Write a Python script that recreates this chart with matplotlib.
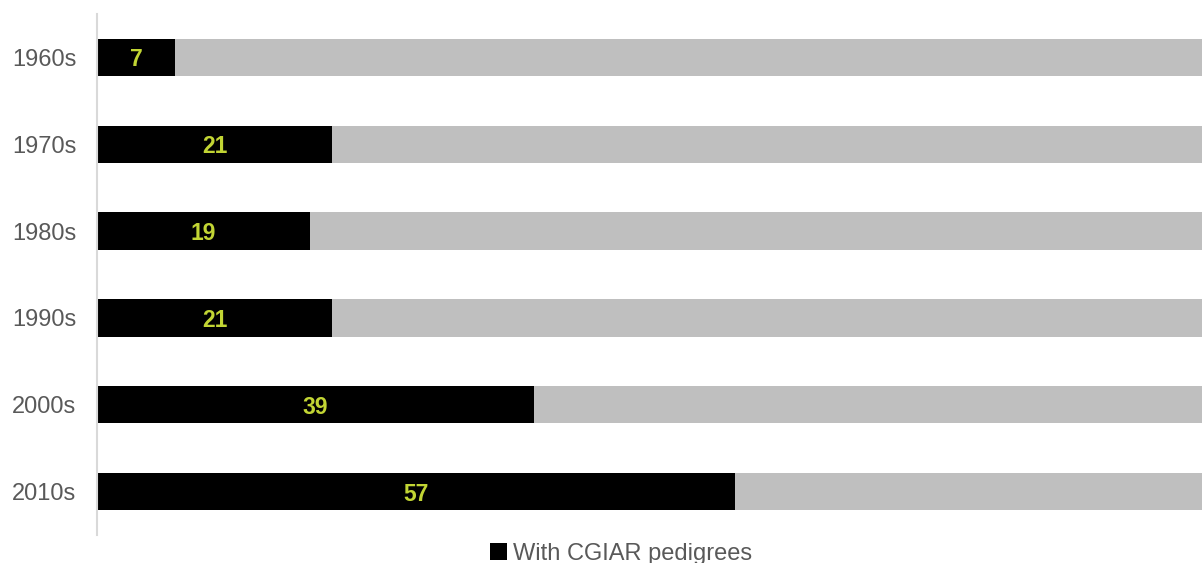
import matplotlib.pyplot as plt
from matplotlib.patches import Patch

decades = ["1960s", "1970s", "1980s", "1990s", "2000s", "2010s"]
with_cgiar = [7, 21, 19, 21, 39, 57]
without_cgiar = [93, 79, 81, 79, 61, 43]

plt.rcParams["font.family"] = ["Liberation Sans", "DejaVu Sans"]

fig = plt.figure(figsize=(12.02, 5.63), dpi=100)
ax = fig.add_axes([97 / 1202, (563 - 535) / 563, 1 - 97 / 1202, (535 - 14) / 563])

y = list(range(len(decades)))
ax.barh(y, with_cgiar, height=0.43, color="black")
ax.barh(y, without_cgiar, left=with_cgiar, height=0.43, color="#bfbfbf")

# etiquetas de valor no centro da barra preta
for i, v in enumerate(with_cgiar):
    ax.text(v / 2, i, str(v), ha="center", va="center_baseline",
            color="#c2d534", fontsize=16.5, fontweight="bold")

ax.set_xlim(0, 98.7)
ax.set_ylim(len(decades) - 0.5, -0.5)
ax.set_yticks(y)
ax.set_yticklabels(decades, fontsize=17, color="#595959")
ax.tick_params(axis="y", length=0, pad=15)
ax.set_xticks([])

for side in ["top", "right", "bottom"]:
    ax.spines[side].set_visible(False)
ax.spines["left"].set_color("#d9d9d9")
ax.spines["left"].set_linewidth(1.5)

handles = [Patch(facecolor="black", label="With CGIAR pedigrees")]
leg = fig.legend(handles=handles, loc="center", bbox_to_anchor=(621 / 1202, 1 - 554 / 563),
                 frameon=False, fontsize=17, handlelength=0.7, handleheight=0.7,
                 handletextpad=0.25, borderpad=0)
for t in leg.get_texts():
    t.set_color("#595959")

fig.savefig("out.png", dpi=100)
